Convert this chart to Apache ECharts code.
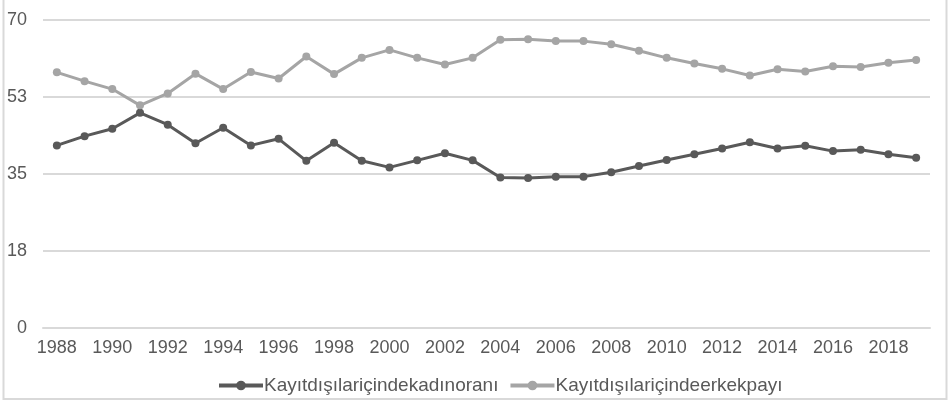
<!DOCTYPE html>
<html>
<head>
<meta charset="utf-8">
<script src="https://cdn.jsdelivr.net/npm/echarts@6/dist/echarts.min.js"></script>
<style>
    html, body { margin: 0; padding: 0; background: #fff; }
    #chart { width: 948px; height: 404px; }
</style>
</head>
<body>
<div id="chart"></div>
<script>
var years = [];
for (var y = 1988; y <= 2019; y++) years.push(String(y));

var kadinOrani = [41.5, 43.6, 45.3, 48.9, 46.2, 42.0, 45.5, 41.5, 43.0, 38.0,
    42.1, 38.0, 36.5, 38.1, 39.7, 38.1, 34.2, 34.1, 34.4, 34.4,
    35.4, 36.8, 38.2, 39.5, 40.8, 42.2, 40.8, 41.4, 40.2, 40.5,
    39.5, 38.7];
var erkekPayi = [58.1, 56.1, 54.3, 50.6, 53.3, 57.8, 54.3, 58.2, 56.7, 61.7,
    57.7, 61.4, 63.2, 61.4, 59.9, 61.4, 65.5, 65.6, 65.2, 65.2,
    64.5, 63.0, 61.4, 60.1, 58.9, 57.4, 58.8, 58.3, 59.5, 59.3,
    60.3, 60.9];

var names = ["Kayıtdışılariçindekadınoranı", "Kayıtdışılariçindeerkekpayı"];
var colors = ["#595959", "#a5a5a5"];
var font = "Liberation Sans, Arial, sans-serif";

var chart = echarts.init(document.getElementById("chart"));
chart.setOption({
    animation: false,
    textStyle: { fontFamily: font },
    graphic: [{
        type: "rect",
        shape: { x: 3.5, y: -2, width: 943, height: 401 },
        style: { fill: "none", stroke: "#d9d9d9", lineWidth: 2 },
        silent: true
    }],
    grid: { left: 43, right: 18, top: 20, bottom: 76, containLabel: false },
    legend: {
        top: 371,
        left: 212,
        itemWidth: 44,
        itemHeight: 12,
        itemGap: 10,
        lineStyle: { width: 4 },
        textStyle: { color: "#595959", fontSize: 19, fontFamily: font, padding: [0, 0, 0, -4] },
        data: names
    },
    xAxis: {
        type: "category",
        data: years,
        boundaryGap: true,
        axisLine: { lineStyle: { color: "#d9d9d9", width: 2 } },
        axisTick: { show: false },
        axisLabel: { interval: 1, color: "#595959", fontSize: 18, margin: 11, fontFamily: font }
    },
    yAxis: {
        type: "value",
        min: 0,
        max: 70,
        interval: 17.5,
        axisLine: { show: false },
        axisTick: { show: false },
        splitLine: { lineStyle: { color: "#d9d9d9", width: 2 } },
        axisLabel: {
            color: "#595959",
            fontSize: 18,
            margin: 16,
            fontFamily: font,
            formatter: function (v) { return Math.round(v); }
        }
    },
    series: [kadinOrani, erkekPayi].map(function (d, i) {
        return {
            name: names[i],
            type: "line",
            data: d,
            symbol: "circle",
            symbolSize: 8,
            color: colors[i],
            lineStyle: { width: 3, color: colors[i] },
            itemStyle: { color: colors[i] }
        };
    })
});
</script>
</body>
</html>
